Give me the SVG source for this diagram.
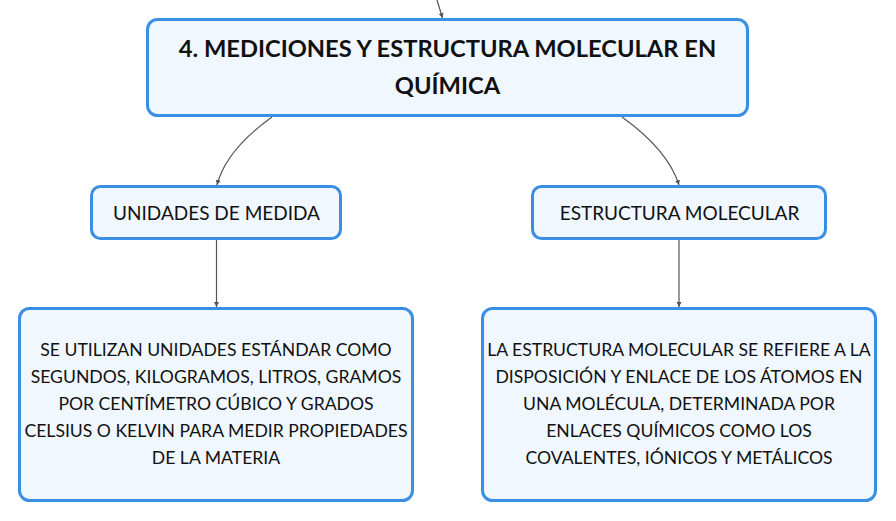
<svg xmlns="http://www.w3.org/2000/svg" width="896" height="521" viewBox="0 0 896 521">
<defs>
<style>
.box{fill:#f0f7fe;stroke:#3a8fe4;stroke-width:3}
.t{font-family:Lato,"Noto Sans",sans-serif;fill:#111;text-anchor:middle}
.title{font-size:23.7px;font-weight:bold}
.sub{font-size:19px}
.body{font-size:17.6px}
.con{fill:none;stroke:#555;stroke-width:1.2}
</style>
<marker id="ah" markerWidth="6" markerHeight="6" refX="5" refY="3" orient="auto" markerUnits="userSpaceOnUse">
<path d="M0,0.5 L5,3 L0,5.5 Z" fill="#555"/>
</marker>
</defs>
<rect width="896" height="521" fill="#fff"/>
<g id="connectors">
<path class="con" d="M437,0 L442.5,18" marker-end="url(#ah)"/>
<path class="con" d="M272,117 Q226,150 217,185" marker-end="url(#ah)"/>
<path class="con" d="M622,117 Q668,150 679,185" marker-end="url(#ah)"/>
<path class="con" d="M216.5,239 L216.5,307" marker-end="url(#ah)"/>
<path class="con" d="M679,239 L679,307" marker-end="url(#ah)"/>
</g>
<g id="main">
<rect class="box" x="147.5" y="19.5" width="600" height="96" rx="10"/>
<text class="t title" x="447.5" y="57">4. MEDICIONES Y ESTRUCTURA MOLECULAR EN</text>
<text class="t title" x="447.5" y="94">QUÍMICA</text>
</g>
<g id="unidades">
<rect class="box" x="91.5" y="186.5" width="249" height="52" rx="9"/>
<text class="t sub" x="216.5" y="220">UNIDADES DE MEDIDA</text>
</g>
<g id="estructura">
<rect class="box" x="532.5" y="186.5" width="293" height="52" rx="9"/>
<text class="t sub" x="679.5" y="220">ESTRUCTURA MOLECULAR</text>
</g>
<g id="unidades-desc">
<rect class="box" x="19.5" y="308.5" width="393" height="192" rx="10"/>
<text class="t body" x="216" y="356">SE UTILIZAN UNIDADES ESTÁNDAR COMO</text>
<text class="t body" x="216" y="383">SEGUNDOS, KILOGRAMOS, LITROS, GRAMOS</text>
<text class="t body" x="216" y="410">POR CENTÍMETRO CÚBICO Y GRADOS</text>
<text class="t body" x="216" y="437">CELSIUS O KELVIN PARA MEDIR PROPIEDADES</text>
<text class="t body" x="216" y="464">DE LA MATERIA</text>
</g>
<g id="estructura-desc">
<rect class="box" x="482.5" y="308.5" width="393" height="192" rx="10"/>
<text class="t body" x="679" y="356">LA ESTRUCTURA MOLECULAR SE REFIERE A LA</text>
<text class="t body" x="679" y="383">DISPOSICIÓN Y ENLACE DE LOS ÁTOMOS EN</text>
<text class="t body" x="679" y="410">UNA MOLÉCULA, DETERMINADA POR</text>
<text class="t body" x="679" y="437">ENLACES QUÍMICOS COMO LOS</text>
<text class="t body" x="679" y="464">COVALENTES, IÓNICOS Y METÁLICOS</text>
</g>
</svg>
